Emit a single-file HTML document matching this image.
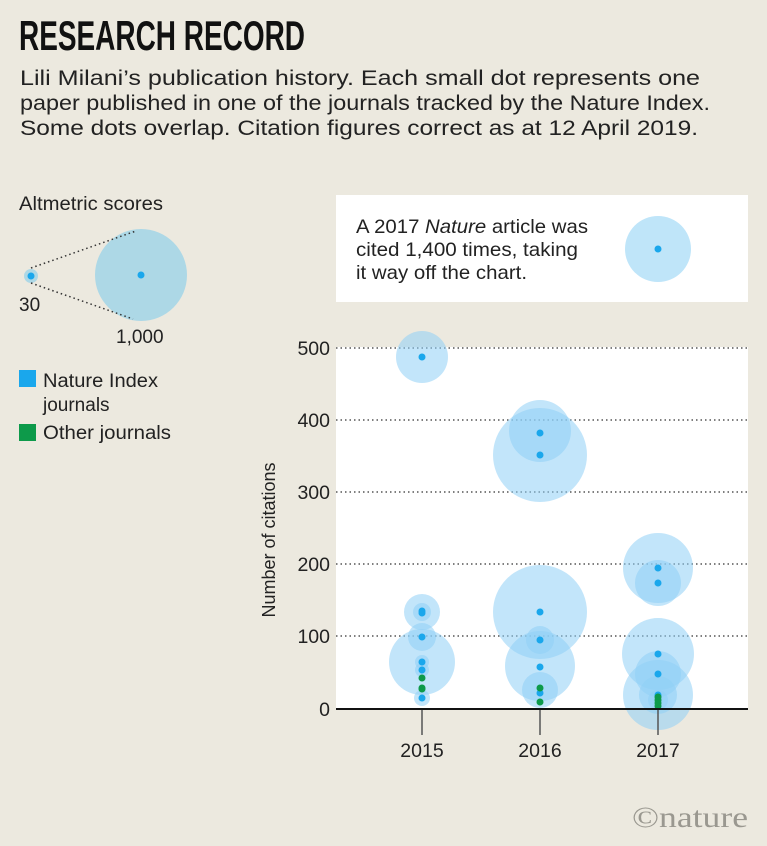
<!DOCTYPE html>
<html><head><meta charset="utf-8"><style>
html,body{margin:0;padding:0;background:#ece9df;}
svg{display:block;font-family:"Liberation Sans",sans-serif;}
</style></head><body>
<svg width="767" height="846" viewBox="0 0 767 846" xmlns="http://www.w3.org/2000/svg">
<rect width="767" height="846" fill="#ece9df"/>
<text x="19" y="50" font-family="Liberation Sans Narrow, Liberation Sans, sans-serif" font-weight="bold" font-size="42" textLength="286" lengthAdjust="spacingAndGlyphs" fill="#111">RESEARCH RECORD</text>
<g font-size="21" fill="#222">
<text x="20" y="85" textLength="680" lengthAdjust="spacingAndGlyphs">Lili Milani’s publication history. Each small dot represents one</text>
<text x="20" y="110" textLength="690" lengthAdjust="spacingAndGlyphs">paper published in one of the journals tracked by the Nature Index.</text>
<text x="20" y="135" textLength="678" lengthAdjust="spacingAndGlyphs">Some dots overlap. Citation figures correct as at 12 April 2019.</text>
</g>
<!-- legend -->
<g font-size="19" fill="#222">
<text x="19" y="210" textLength="144" lengthAdjust="spacingAndGlyphs">Altmetric scores</text>
<circle cx="141" cy="275" r="46" fill="#add8e6"/>
<circle cx="141" cy="275" r="3.5" fill="#1aa7ec"/>
<circle cx="31" cy="276" r="7" fill="#add8e6"/>
<circle cx="31" cy="276" r="3.5" fill="#1aa7ec"/>
<line x1="31" y1="268" x2="136" y2="231" stroke="#333" stroke-width="1.5" stroke-dasharray="1.5,3"/>
<line x1="31" y1="283" x2="133" y2="319" stroke="#333" stroke-width="1.5" stroke-dasharray="1.5,3"/>
<text x="19" y="311">30</text>
<text x="116" y="343">1,000</text>
<rect x="19" y="370" width="17" height="17" fill="#1aa7ec"/>
<text x="43" y="387" textLength="115" lengthAdjust="spacingAndGlyphs">Nature Index</text>
<text x="43" y="411">journals</text>
<rect x="19" y="424" width="17" height="17" fill="#0d9a4a"/>
<text x="43" y="439" textLength="128" lengthAdjust="spacingAndGlyphs">Other journals</text>
</g>
<!-- annotation box -->
<rect x="336" y="195" width="412" height="107" fill="#fff"/>
<g font-size="19.5" fill="#222">
<text x="356" y="233" textLength="232" lengthAdjust="spacingAndGlyphs">A 2017 <tspan font-style="italic">Nature</tspan> article was</text>
<text x="356" y="256" textLength="222" lengthAdjust="spacingAndGlyphs">cited 1,400 times, taking</text>
<text x="356" y="279" textLength="171" lengthAdjust="spacingAndGlyphs">it way off the chart.</text>
</g>
<circle cx="658" cy="249" r="33" fill="#bfe5f9"/>
<circle cx="658" cy="249" r="3.5" fill="#1aa7ec"/>
<!-- plot -->
<rect x="336" y="347" width="412" height="362" fill="#fff"/>
<g stroke="#555" stroke-width="1.5" stroke-dasharray="1.5,3">
<line x1="336" y1="348" x2="748" y2="348"/>
<line x1="336" y1="420" x2="748" y2="420"/>
<line x1="336" y1="492" x2="748" y2="492"/>
<line x1="336" y1="564" x2="748" y2="564"/>
<line x1="336" y1="636" x2="748" y2="636"/>
</g>
<g fill="#8fd0f5" fill-opacity="0.55">
<circle cx="422" cy="357" r="26"/>
<circle cx="422" cy="612" r="18"/><circle cx="422" cy="612" r="9"/>
<circle cx="422" cy="637" r="14"/>
<circle cx="422" cy="662" r="33"/>
<circle cx="422" cy="662" r="7"/><circle cx="422" cy="670" r="7"/>
<circle cx="422" cy="698" r="8"/>
<circle cx="540" cy="455" r="47"/><circle cx="540" cy="431" r="31"/>
<circle cx="540" cy="612" r="47"/><circle cx="540" cy="666" r="35"/>
<circle cx="540" cy="640" r="14"/><circle cx="540" cy="690" r="18"/>
<circle cx="658" cy="568" r="35"/><circle cx="658" cy="583" r="23"/>
<circle cx="658" cy="654" r="36"/><circle cx="658" cy="674" r="23"/>
<circle cx="658" cy="695" r="35"/><circle cx="658" cy="695" r="19"/><circle cx="658" cy="700" r="10"/>
</g>
<g fill="#1aa7ec">
<circle cx="422" cy="357" r="3.5"/>
<circle cx="422" cy="611" r="3.5"/><circle cx="422" cy="613" r="3.5"/>
<circle cx="422" cy="637" r="3.5"/>
<circle cx="422" cy="662" r="3.5"/><circle cx="422" cy="670" r="3.5"/>
<circle cx="422" cy="698" r="3.5"/>
<circle cx="540" cy="433" r="3.5"/><circle cx="540" cy="455" r="3.5"/>
<circle cx="540" cy="612" r="3.5"/><circle cx="540" cy="640" r="3.5"/>
<circle cx="540" cy="667" r="3.5"/><circle cx="540" cy="693" r="3.5"/>
<circle cx="658" cy="568" r="3.5"/><circle cx="658" cy="583" r="3.5"/>
<circle cx="658" cy="654" r="3.5"/><circle cx="658" cy="674" r="3.5"/>
<circle cx="658" cy="695" r="3.5"/>
</g>
<g fill="#0d9a4a">
<circle cx="422" cy="678" r="3.5"/><circle cx="422" cy="688" r="3.5"/><circle cx="422" cy="689" r="3.5"/>
<circle cx="540" cy="688" r="3.5"/><circle cx="540" cy="702" r="3.5"/>
<circle cx="658" cy="697" r="3.5"/><circle cx="658" cy="700" r="3.5"/><circle cx="658" cy="703" r="3.5"/><circle cx="658" cy="706" r="3.5"/>
</g>
<line x1="336" y1="709" x2="748" y2="709" stroke="#111" stroke-width="2"/>
<g stroke="#555" stroke-width="1.5">
<line x1="422" y1="710" x2="422" y2="735"/>
<line x1="540" y1="710" x2="540" y2="735"/>
<line x1="658" y1="710" x2="658" y2="735"/>
</g>
<g font-size="19.5" fill="#222" text-anchor="end">
<text x="330" y="355">500</text>
<text x="330" y="427">400</text>
<text x="330" y="499">300</text>
<text x="330" y="571">200</text>
<text x="330" y="643">100</text>
<text x="330" y="716">0</text>
</g>
<g font-size="19.5" fill="#222" text-anchor="middle">
<text x="422" y="757">2015</text>
<text x="540" y="757">2016</text>
<text x="658" y="757">2017</text>
</g>
<text transform="translate(275,540) rotate(-90)" font-size="18" fill="#222" text-anchor="middle">Number of citations</text>
<text x="632" y="827" font-family="Liberation Serif, serif" font-size="30" textLength="116" lengthAdjust="spacingAndGlyphs" fill="#9a9890">©nature</text>
</svg>
</body></html>
